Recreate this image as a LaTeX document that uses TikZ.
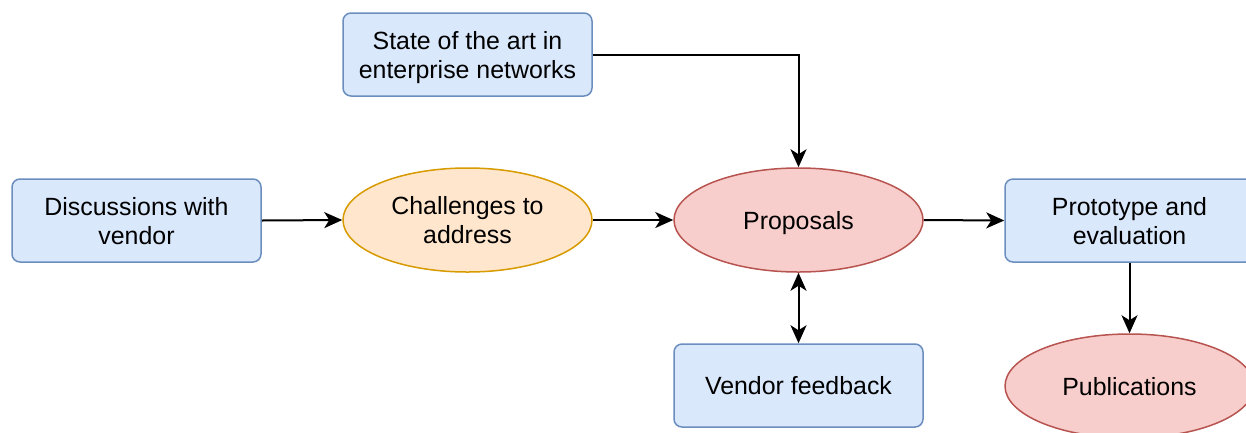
\documentclass[tikz,border=0pt]{standalone}
\usepackage{fontspec}
\setmainfont{Liberation Sans}
\usetikzlibrary{shapes.geometric,arrows.meta}
\definecolor{bluefill}{HTML}{DAE8FC}
\definecolor{bluedraw}{HTML}{6C8EBF}
\definecolor{orangefill}{HTML}{FFE6CC}
\definecolor{orangedraw}{HTML}{D79B00}
\definecolor{redfill}{HTML}{F8CECC}
\definecolor{reddraw}{HTML}{B85450}
\tikzset{
  box/.style={draw=bluedraw, fill=bluefill, line width=1.5pt, rounded corners=8pt,
    minimum width=249pt, minimum height=83pt, inner sep=0pt, align=center, text depth=0pt,
    font=\fontsize{24.9pt}{29pt}\selectfont},
  oval/.style={ellipse, line width=1.5pt, minimum width=249pt, minimum height=104pt,
    inner sep=0pt, align=center, text depth=0pt, font=\fontsize{24.9pt}{29pt}\selectfont},
  orangeoval/.style={oval, draw=orangedraw, fill=orangefill},
  redoval/.style={oval, draw=reddraw, fill=redfill},
  conn/.style={line width=2pt, -{Stealth[length=18pt,width=16pt,inset=5pt]}},
  biconn/.style={line width=2pt, {Stealth[length=18pt,width=16pt,inset=5pt]}-{Stealth[length=18pt,width=16pt,inset=5pt]}}
}
\begin{document}
\begin{tikzpicture}[x=1pt,y=-1pt]
\clip (0,0) rectangle (1246,432);
\fill[white] (0,0) rectangle (1246,432);
\node[box] (state) at (467.5,54.5) {State of the art in\\enterprise networks};
\node[box] (disc) at (136.5,220.5) {Discussions with\\vendor};
\node[orangeoval] (chall) at (467.5,220) {Challenges to\\address};
\node[redoval] (prop) at (798.5,220) {Proposals};
\node[box] (proto) at (1129.5,220.5) {Prototype and\\evaluation};
\node[box] (vfb) at (798.5,385.5) {Vendor feedback};
\node[redoval] (pub) at (1129.5,386) {Publications};
\draw[conn] (disc.east) -- (chall.west);
\draw[conn] (chall.east) -- (prop.west);
\draw[conn] (prop.east) -- (proto.west);
\draw[conn] (state.east) -| (prop.north);
\draw[biconn] (prop.south) -- (vfb.north);
\draw[conn] (proto.south) -- (pub.north);
\end{tikzpicture}
\end{document}
